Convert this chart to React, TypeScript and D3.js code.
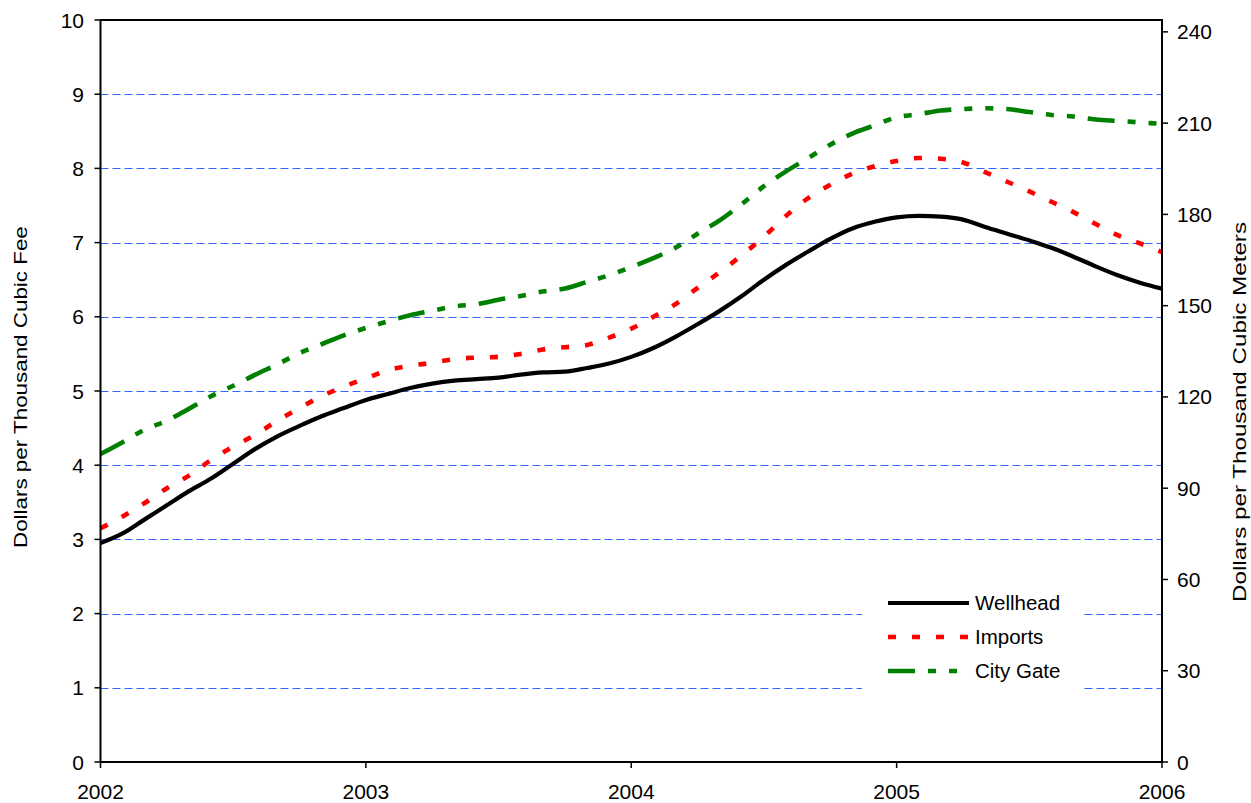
import * as d3 from "d3";
import React, { RefObject, useEffect, useRef } from "react";

// monthly prices, Jan 2002 .. Jan 2006 (dollars per thousand cubic feet)
const startYear = 2002;
const yearTicks = [2002, 2003, 2004, 2005, 2006];
const leftTicks = [0, 1, 2, 3, 4, 5, 6, 7, 8, 9, 10];
const rightTicks = [0, 30, 60, 90, 120, 150, 180, 210, 240];

const wellhead = [
  2.95, 3.08, 3.27, 3.46, 3.65, 3.82, 4.02, 4.22, 4.39, 4.53, 4.66, 4.77, 4.88,
  4.96, 5.04, 5.1, 5.14, 5.16, 5.18, 5.22, 5.25, 5.26, 5.31, 5.37, 5.46,
  5.58, 5.73, 5.9, 6.08, 6.28, 6.5, 6.7, 6.88, 7.05, 7.19, 7.28, 7.34,
  7.36, 7.35, 7.31, 7.21, 7.12, 7.03, 6.93, 6.81, 6.68, 6.56, 6.46, 6.38,
];
const imports = [
  3.15, 3.31, 3.49, 3.69, 3.86, 4.07, 4.25, 4.41, 4.6, 4.77, 4.93, 5.06, 5.17,
  5.28, 5.34, 5.38, 5.43, 5.45, 5.46, 5.5, 5.56, 5.59, 5.62, 5.72, 5.84,
  6.0, 6.17, 6.39, 6.6, 6.83, 7.08, 7.36, 7.6, 7.78, 7.93, 8.03, 8.1,
  8.14, 8.13, 8.08, 7.95, 7.82, 7.69, 7.55, 7.41, 7.25, 7.1, 6.99, 6.87,
];
const cityGate = [
  4.15, 4.31, 4.48, 4.6, 4.76, 4.93, 5.07, 5.22, 5.36, 5.51, 5.63, 5.75, 5.85,
  5.94, 6.02, 6.08, 6.14, 6.17, 6.23, 6.28, 6.34, 6.38, 6.47, 6.56, 6.67,
  6.79, 6.93, 7.12, 7.3, 7.52, 7.76, 7.96, 8.14, 8.32, 8.47, 8.58, 8.69,
  8.73, 8.78, 8.8, 8.81, 8.8, 8.76, 8.72, 8.7, 8.66, 8.64, 8.62, 8.6,
];

const seriesNames = ["Wellhead", "Imports", "City Gate"];
const seriesColors = ["#000000", "#ff0000", "#008000"];
const seriesDash = ["none", "8 16", "27 13 8 13 8 13"];

const FONT = "'Liberation Sans', Arial, sans-serif";

const Chart = () => {
  const d3Ref: RefObject<HTMLDivElement> = useRef(null);

  const drawChart = () => {
    const width = 1251;
    const height = 803;
    const left = 100.5;
    const right = 1162;
    const top = 20;
    const bottom = 762;

    d3.select(d3Ref.current).selectAll("*").remove();
    const svg = d3
      .select(d3Ref.current)
      .append("svg")
      .attr("width", width)
      .attr("height", height)
      .style("display", "block")
      .style("background", "#ffffff");

    const xScale = d3.scaleLinear().domain([2002, 2006]).range([left, right]);
    const yScale = d3.scaleLinear().domain([0, 10]).range([bottom, top]);
    const yRight = d3.scaleLinear().domain([0, 243.9]).range([bottom, top]);

    // grid
    svg
      .append("g")
      .selectAll("line")
      .data(leftTicks.filter((d) => d > 0 && d < 10))
      .enter()
      .append("line")
      .attr("x1", left)
      .attr("x2", right)
      .attr("y1", (d) => Math.round(yScale(d)) + 0.5)
      .attr("y2", (d) => Math.round(yScale(d)) + 0.5)
      .attr("stroke", "#3366ff")
      .attr("stroke-width", 1)
      .attr("stroke-dasharray", "8 4");

    // legend background hides grid
    svg
      .append("rect")
      .attr("x", 862)
      .attr("y", 585)
      .attr("width", 221)
      .attr("height", 112)
      .attr("fill", "#ffffff");

    const all = [wellhead, imports, cityGate];
    const line = d3
      .line<number>()
      .x((_, i) => xScale(startYear + i / 12))
      .y((d) => yScale(d))
      .curve(d3.curveMonotoneX);

    // draw city gate first so wellhead is on top
    [2, 1, 0].forEach((s) => {
      svg
        .append("path")
        .attr("d", line(all[s]))
        .attr("fill", "none")
        .attr("stroke", seriesColors[s])
        .attr("stroke-width", s === 0 ? 4.2 : 4.6)
        .attr("stroke-dasharray", seriesDash[s]);
    });

    // frame
    svg
      .append("rect")
      .attr("x", left)
      .attr("y", top)
      .attr("width", right - left)
      .attr("height", bottom - top)
      .attr("fill", "none")
      .attr("stroke", "#000")
      .attr("stroke-width", 2);

    // left axis
    const gl = svg.append("g");
    gl.selectAll("line")
      .data(leftTicks)
      .enter()
      .append("line")
      .attr("x1", left - 6)
      .attr("x2", left)
      .attr("y1", (d) => yScale(d))
      .attr("y2", (d) => yScale(d))
      .attr("stroke", "#000")
      .attr("stroke-width", 1.5);
    gl.selectAll("text")
      .data(leftTicks)
      .enter()
      .append("text")
      .attr("x", 84)
      .attr("y", (d) => yScale(d))
      .attr("dy", "0.36em")
      .attr("text-anchor", "end")
      .style("font-family", FONT)
      .style("font-size", "21px")
      .text((d) => d);

    // right axis
    const gr = svg.append("g");
    gr.selectAll("line")
      .data(rightTicks)
      .enter()
      .append("line")
      .attr("x1", right)
      .attr("x2", right + 6)
      .attr("y1", (d) => yRight(d))
      .attr("y2", (d) => yRight(d))
      .attr("stroke", "#000")
      .attr("stroke-width", 1.5);
    gr.selectAll("text")
      .data(rightTicks)
      .enter()
      .append("text")
      .attr("x", 1177)
      .attr("y", (d) => yRight(d))
      .attr("dy", "0.36em")
      .attr("text-anchor", "start")
      .style("font-family", FONT)
      .style("font-size", "21px")
      .text((d) => d);

    // bottom axis
    const gb = svg.append("g");
    gb.selectAll("line")
      .data(yearTicks)
      .enter()
      .append("line")
      .attr("x1", (d) => xScale(d))
      .attr("x2", (d) => xScale(d))
      .attr("y1", bottom)
      .attr("y2", bottom + 6)
      .attr("stroke", "#000")
      .attr("stroke-width", 1.5);
    gb.selectAll("text")
      .data(yearTicks)
      .enter()
      .append("text")
      .attr("x", (d) => xScale(d))
      .attr("y", 799)
      .attr("text-anchor", "middle")
      .style("font-family", FONT)
      .style("font-size", "21px")
      .text((d) => d);

    // axis titles (clipped at the top like the original)
    const defs = svg.append("defs");
    defs
      .append("clipPath")
      .attr("id", "clipLeft")
      .append("rect")
      .attr("x", 0)
      .attr("y", 226)
      .attr("width", 60)
      .attr("height", 400);
    defs
      .append("clipPath")
      .attr("id", "clipRight")
      .append("rect")
      .attr("x", 1200)
      .attr("y", 216)
      .attr("width", 51)
      .attr("height", 420);

    svg
      .append("g")
      .attr("clip-path", "url(#clipLeft)")
      .append("text")
      .attr("transform", "translate(27,548) rotate(-90)")
      .attr("textLength", 328)
      .attr("lengthAdjust", "spacingAndGlyphs")
      .style("font-family", FONT)
      .style("font-size", "19px")
      .text("Dollars per Thousand Cubic Feet");

    svg
      .append("g")
      .attr("clip-path", "url(#clipRight)")
      .append("text")
      .attr("transform", "translate(1246,602) rotate(-90)")
      .attr("textLength", 380)
      .attr("lengthAdjust", "spacingAndGlyphs")
      .style("font-family", FONT)
      .style("font-size", "19px")
      .text("Dollars per Thousand Cubic Meters");

    // legend
    const legendY = [603, 637, 671];
    const lg = svg.append("g");
    seriesNames.forEach((name, i) => {
      lg.append("line")
        .attr("x1", 888)
        .attr("x2", 969)
        .attr("y1", legendY[i])
        .attr("y2", legendY[i])
        .attr("stroke", seriesColors[i])
        .attr("stroke-width", i === 0 ? 4.2 : 4.6)
        .attr("stroke-dasharray", seriesDash[i]);
      lg.append("text")
        .attr("x", 975)
        .attr("y", legendY[i])
        .attr("dy", "0.36em")
        .style("font-family", FONT)
        .style("font-size", "20.5px")
        .text(name);
    });
  };

  useEffect(() => {
    document.body.style.margin = "0";
    drawChart();
  }, [d3Ref]);

  return <div ref={d3Ref} />;
};

export default function App() {
  return <Chart />;
}
